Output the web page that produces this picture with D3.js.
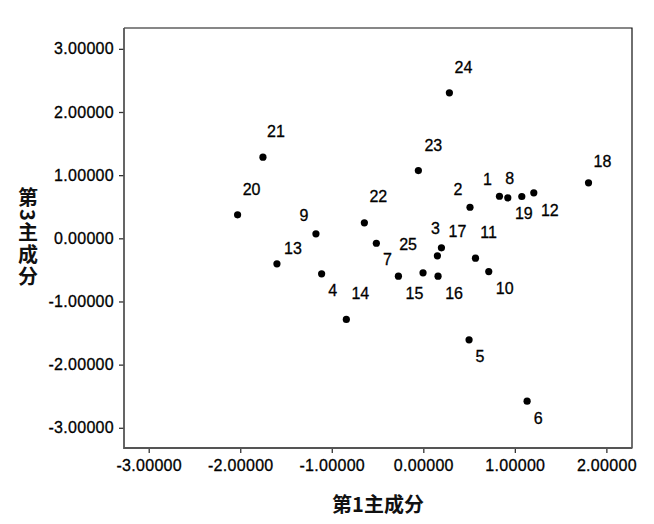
<!DOCTYPE html>
<html>
<head>
<meta charset="utf-8">
<script src="https://cdn.jsdelivr.net/npm/d3@7"></script>
<style>
  body { margin: 0; background: #fff; }
  svg { display: block; }
</style>
</head>
<body>
<svg id="chart" width="654" height="524"></svg>
<script>
// case ids and component scores
const ids = [1, 2, 3, 4, 5, 6, 7, 8, 9, 10, 11, 12, 13, 14, 15, 16, 17, 18, 19, 20, 21, 22, 23, 24, 25];
const pc1 = [0.832, 0.510, 0.198, -1.111, 0.500, 1.134, -0.513, 1.076, -1.173, 0.715, 0.570, 1.207, -1.599,
             -0.841, -0.272, 0.161, 0.154, 1.805, 0.923, -2.029, -1.752, -0.644, -0.054, 0.285, -0.003];
const pc3 = [0.666, 0.492, -0.150, -0.562, -1.607, -2.579, -0.078, 0.662, 0.071, -0.526, -0.315, 0.720, -0.404,
             -1.285, -0.600, -0.600, -0.277, 0.879, 0.641, 0.372, 1.284, 0.245, 1.073, 2.303, -0.546];
const xTicks = [-3, -2, -1, 0, 1, 2];
const yTicks = [-3, -2, -1, 0, 1, 2, 3];
const xTitle = "第1主成分";
const yTitle = "第3主成分";

// where each case label sits relative to its dot (px)
const labelOffset = {
  1: [-12, -17], 2: [-12, -18], 3: [-6, -19], 4: [11, 17], 5: [11, 17], 6: [11, 17],
  7: [11, 16], 8: [-12, -18], 9: [-12, -18], 10: [16, 17], 11: [13, -26], 12: [16, 18],
  13: [16, -15], 14: [14, -26], 15: [16, 17], 16: [16, 17], 17: [20, -24], 18: [14, -21],
  19: [16, 16], 20: [14, -25], 21: [13, -26], 22: [14, -26], 23: [15, -25], 24: [14, -25],
  25: [-15, -28]
};

const svg = d3.select("#chart");
const m = {top: 28, right: 22, bottom: 76, left: 124};
const w = 654, h = 524;
const font = "'Liberation Sans', Arial, sans-serif";
const cjk = "'Noto Sans CJK SC', 'Liberation Sans', sans-serif";

const x = d3.scaleLinear().domain([-3.27, 2.28]).range([m.left, w - m.right]);
const y = d3.scaleLinear().domain([-3.32, 3.33]).range([h - m.bottom, m.top]);

svg.append("rect").attr("width", w).attr("height", h).attr("fill", "#fff");

// plain hyphen for negatives, like SPSS
const fmt = v => d3.format(".5f")(v).replace("\u2212", "-");

// axes
const gx = svg.append("g")
    .attr("transform", `translate(0,${h - m.bottom})`)
    .call(d3.axisBottom(x).tickValues(xTicks).tickFormat(fmt).tickSize(5).tickPadding(7));
const gy = svg.append("g")
    .attr("transform", `translate(${m.left},0)`)
    .call(d3.axisLeft(y).tickValues(yTicks).tickFormat(fmt).tickSize(5).tickPadding(5));

[gx, gy].forEach(g => {
  g.select(".domain").remove();
  g.selectAll(".tick line").attr("stroke", "#333").attr("stroke-width", 1.3);
  g.selectAll(".tick text")
      .attr("fill", "#000")
      .attr("stroke", "#000")
      .attr("stroke-width", 0.3)
      .attr("font-family", font)
      .attr("font-size", "16px")
      .attr("letter-spacing", "0.3px");
});

// frame: left/bottom grey, top/right black
const x0 = m.left, x1 = w - m.right, y0 = m.top, y1 = h - m.bottom;
svg.append("path")
    .attr("d", `M${x0},${y1}H${x1}V${y0}H${x0}`)
    .attr("fill", "none").attr("stroke", "#111").attr("stroke-width", 1.2);
svg.append("path")
    .attr("d", `M${x0},${y0}V${y1}H${x1}`)
    .attr("fill", "none").attr("stroke", "#555").attr("stroke-width", 1.8);

// points
const data = ids.map((id, i) => ({id, a: pc1[i], b: pc3[i]}));

svg.append("g").selectAll("circle")
    .data(data)
    .join("circle")
    .attr("cx", d => x(d.a))
    .attr("cy", d => y(d.b))
    .attr("r", 3.6)
    .attr("fill", "#000");

svg.append("g").selectAll("text")
    .data(data)
    .join("text")
    .attr("x", d => x(d.a) + labelOffset[d.id][0])
    .attr("y", d => y(d.b) + labelOffset[d.id][1])
    .attr("text-anchor", "middle")
    .attr("dominant-baseline", "central")
    .attr("font-family", font)
    .attr("font-size", "16px")
    .attr("fill", "#000")
    .attr("stroke", "#000")
    .attr("stroke-width", 0.3)
    .text(d => d.id);

// x title
svg.append("text")
    .attr("x", (x0 + x1) / 2)
    .attr("y", 503)
    .attr("text-anchor", "middle")
    .attr("dominant-baseline", "central")
    .attr("font-family", cjk)
    .attr("font-size", "20px")
    .attr("font-weight", "bold")
    .attr("fill", "#111")
    .text(xTitle);

// y title: vertical writing, the digit lies on its side
svg.append("text")
    .attr("x", 28)
    .attr("y", (y0 + y1) / 2)
    .attr("text-anchor", "middle")
    .attr("font-family", cjk)
    .attr("font-size", "20px")
    .attr("font-weight", "bold")
    .attr("letter-spacing", "2px")
    .attr("fill", "#111")
    .style("writing-mode", "vertical-rl")
    .style("text-orientation", "mixed")
    .text(yTitle);
</script>
</body>
</html>
